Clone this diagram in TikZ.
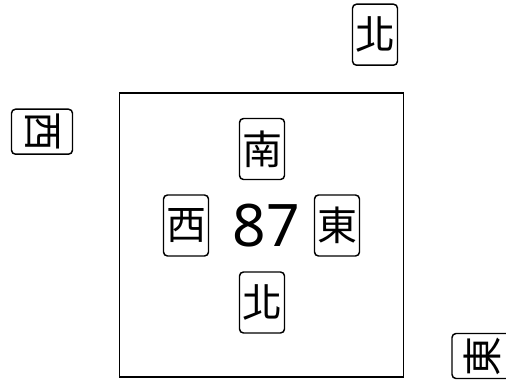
\documentclass[tikz,border=0pt]{standalone}
\usepackage{fontspec}
\setmainfont{Noto Sans}
\newfontfamily\cjk{Noto Sans CJK TC}
\begin{document}
\begin{tikzpicture}[x=0.75pt,y=-0.75pt,
  tile/.style={draw=black,line width=1.1pt,rounded corners=3pt,fill=white,
    minimum width=33.75pt,minimum height=45.75pt,inner sep=0pt,
    font=\cjk\fontsize{30}{30}\selectfont},
  board/.style={draw=black,line width=1.1pt,minimum size=213pt,inner sep=0pt},
  num/.style={font=\fontsize{44}{44}\selectfont,inner sep=0pt}]
\useasboundingbox (0,0) rectangle (506,382);
\node[board] (board) at (261.5,235) {};
\node[tile] (south) at (262,149) {南};
\node[tile] (west) at (186,225.5) {西};
\node[tile] (east) at (337,225.5) {東};
\node[tile] (north) at (262,302.5) {北};
\node[num] (score) at (266,226) {87};
\node[tile] (topn) at (375,34.7) {北};
\node[tile,rotate=-90] (leftw) at (42,131.7) {西};
\node[tile,rotate=90] (bre) at (482.5,356) {東};
\end{tikzpicture}
\end{document}
